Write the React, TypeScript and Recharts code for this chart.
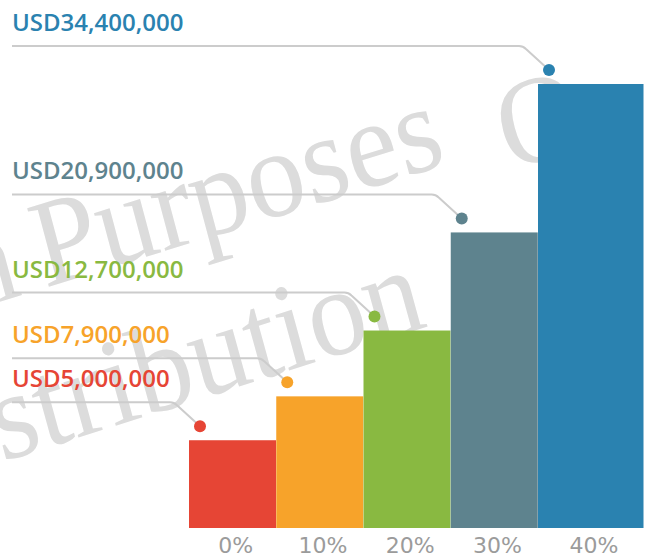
import React from 'react';
import { BarChart, Bar, XAxis, YAxis, LabelList } from 'recharts';

// categories along the bottom axis
const categories = ['0%', '10%', '20%', '30%', '40%'];
// amounts written in the callouts
const amountsUsd = [5000000, 7900000, 12700000, 20900000, 34400000];
// bar heights as drawn in the picture (not proportional to the amounts), tallest bar = 34.4
const barHeights = [6.8, 10.2, 15.3, 22.9, 34.4];

const palette = ['#E64535', '#F7A32A', '#89B941', '#5E838E', '#2A82B0'];

const W = 653;
const H = 557;
const LAST_EXTRA = 18.5; // the last bar runs a bit wider in the original

const data = categories.map((c, i) => ({
  category: c,
  height: barHeights[i],
  amount: amountsUsd[i],
}));

const formatUsd = (v: number) => `USD${v.toLocaleString('en-US')}`;

const BarShape = (props: any) => {
  const { x, y, width, height, index } = props;
  const w = width + (index === data.length - 1 ? LAST_EXTRA : 0);
  return <rect x={x} y={y} width={w} height={height} fill={palette[index]} />;
};

const Callout = (props: any) => {
  const vb = props.viewBox || props;
  const x = vb.x ?? props.x;
  const y = vb.y ?? props.y;
  const index = props.index;
  const dotX = x + 11;
  const dotY = y - 14;
  const lineY = dotY - 24;
  const bendX = dotX - 26;
  const color = palette[index];
  const d = `M 12 ${lineY} H ${bendX - 4} Q ${bendX} ${lineY} ${bendX + 3} ${lineY + 3} L ${dotX} ${dotY}`;
  return (
    <g>
      <path d={d} fill="none" stroke="#cccccc" strokeWidth={2} />
      <circle cx={dotX} cy={dotY} r={6} fill={color} />
      <text
        x={12}
        y={lineY - 15}
        fill={color}
        fontFamily="'Open Sans', sans-serif"
        fontWeight={600}
        fontSize={24}
      >
        {formatUsd(amountsUsd[index])}
      </text>
    </g>
  );
};

const CategoryTick = (props: any) => {
  const { x, payload } = props;
  const i = categories.indexOf(payload.value);
  const shift = 3 + (i === categories.length - 1 ? LAST_EXTRA / 2 : 0);
  return (
    <text
      x={x + shift}
      y={553}
      textAnchor="middle"
      fill="#9b9b9b"
      fontFamily="'DejaVu Sans', sans-serif"
      fontSize={22}
    >
      {payload.value}
    </text>
  );
};

const Watermark = () => (
  <svg width={W} height={H} style={{ position: 'absolute', left: 0, top: 0 }}>
    <g fontFamily="'Liberation Serif', serif" fontSize={125} fill="#dcdcdc">
      <g transform="translate(45,288) scale(0.93,1) rotate(-16)">
        <text x={0} y={0}>Purposes</text>
        <text x={512} y={26}>O</text>
        <text x={-24} y={0} textAnchor="end">For Illustration</text>
      </g>
      <g transform="translate(2,462) scale(0.93,1) rotate(-16.5)">
        <text x={0} y={0}>stribution</text>
        <text x={0} y={0} textAnchor="end">Not for Di</text>
      </g>
    </g>
  </svg>
);

export default function App() {
  return (
    <div style={{ position: 'relative', width: W, height: H, background: '#fff', overflow: 'hidden' }}>
      <style>{'body{margin:0}'}</style>
      <Watermark />
      <div style={{ position: 'absolute', left: 0, top: 0 }}>
        <BarChart
          width={W}
          height={H}
          data={data}
          margin={{ top: 84, right: 27.75, bottom: 0, left: 189 }}
          barCategoryGap={0}
          barGap={0}
        >
          <XAxis
            dataKey="category"
            height={29}
            axisLine={false}
            tickLine={false}
            tick={<CategoryTick />}
            interval={0}
          />
          <YAxis hide domain={[0, 34.4]} />
          <Bar dataKey="height" shape={<BarShape />} isAnimationActive={false}>
            <LabelList dataKey="amount" content={<Callout />} />
          </Bar>
        </BarChart>
      </div>
    </div>
  );
}
